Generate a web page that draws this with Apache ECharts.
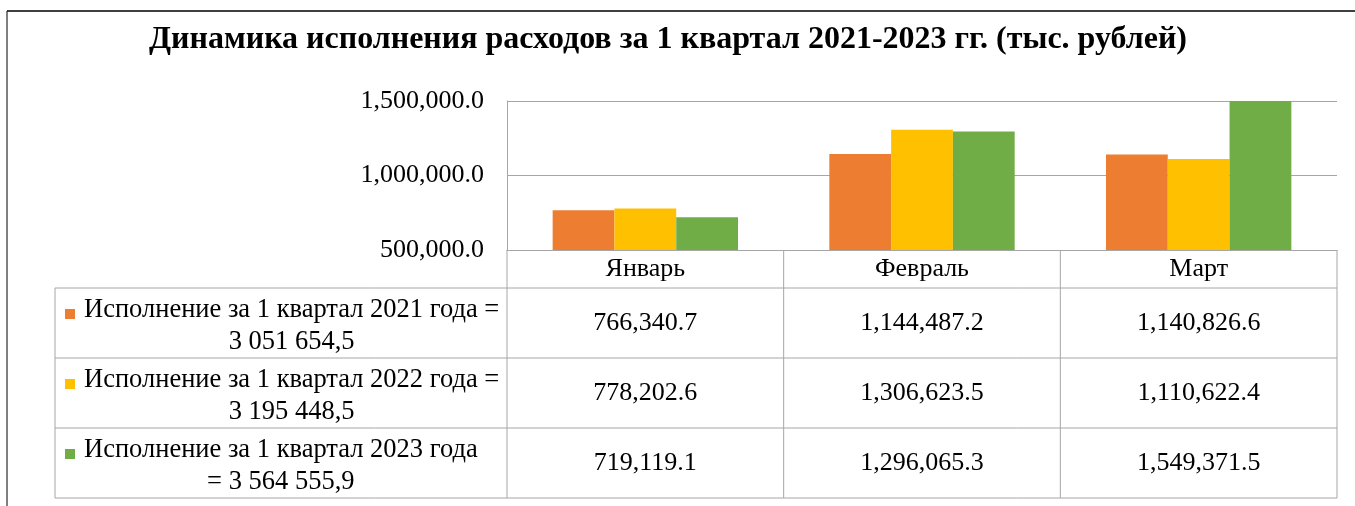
<!DOCTYPE html>
<html>
<head>
<meta charset="utf-8">
<script src="https://cdn.jsdelivr.net/npm/echarts@6/dist/echarts.min.js"></script>
<style>
  html, body { margin: 0; padding: 0; background: #fff; }
  #main { width: 1355px; height: 506px; }
</style>
</head>
<body>
<div id="main"></div>
<script>
// данные
var months = ['Январь', 'Февраль', 'Март'];
var v2021 = [766340.7, 1144487.2, 1140826.6];
var v2022 = [778202.6, 1306623.5, 1110622.4];
var v2023 = [719119.1, 1296065.3, 1549371.5];
var seriesNames = ['Исполнение за 1 квартал 2021 года', 'Исполнение за 1 квартал 2022 года', 'Исполнение за 1 квартал 2023 года'];
var legendLines = [
  ['Исполнение за 1 квартал 2021 года =', '3 051 654,5'],
  ['Исполнение за 1 квартал 2022 года =', '3 195 448,5'],
  ['Исполнение за 1 квартал 2023 года', '= 3 564 555,9']
];
var yMin = 500000, yMax = 1500000, yStep = 500000;

var colors = ['#ED7D31', '#FFC000', '#70AD47'];
var font = '"Liberation Serif", "Times New Roman", serif';
var lineColor = '#A6A6A6';
var fs = 26;

function fmt(v) {
  return v.toLocaleString('en-US', { minimumFractionDigits: 1, maximumFractionDigits: 1 });
}

var myChart = echarts.init(document.getElementById('main'));
var allValues = [v2021, v2022, v2023];

var option = {
  backgroundColor: '#fff',
  animation: false,
  color: colors,
  title: {
    text: 'Динамика исполнения расходов за 1 квартал 2021-2023 гг. (тыс. рублей)',
    left: 144,
    top: 19,
    textStyle: { fontFamily: font, fontSize: 32, fontWeight: 'bold', color: '#000' }
  },
  grid: { left: 507, right: 18, top: 101, bottom: 256 },
  xAxis: {
    type: 'category',
    data: months,
    axisLine: { show: true, lineStyle: { color: lineColor } },
    axisTick: { show: false },
    axisLabel: { fontFamily: font, fontSize: fs, color: '#000', margin: 19, verticalAlign: 'middle' }
  },
  yAxis: {
    type: 'value',
    min: yMin,
    max: yMax,
    interval: yStep,
    axisLine: { show: true, lineStyle: { color: lineColor } },
    axisTick: { show: false },
    splitLine: { lineStyle: { color: lineColor } },
    axisLabel: { fontFamily: font, fontSize: fs, color: '#000', margin: 23, formatter: function (v) { return fmt(v); } }
  },
  series: allValues.map(function (vals, i) {
    return {
      name: seriesNames[i],
      type: 'bar',
      data: vals,
      barGap: '0%',
      barCategoryGap: '33%',
      clip: true
    };
  })
};
myChart.setOption(option);

// таблица данных под графиком
var rowTops = [288, 358, 428, 498];
var tableLeft = 55;
var gridLeft = 507, gridRight = 1337, axisY = 250;
var colEdges = [gridLeft];
for (var k = 0; k < months.length; k++) {
  var cx = myChart.convertToPixel({ gridIndex: 0 }, [k, yMin])[0];
  var half = (gridRight - gridLeft) / months.length / 2;
  colEdges.push(cx + half);
}

var legendFs = 26.5;
var ctx = document.createElement('canvas').getContext('2d');
ctx.font = legendFs + 'px ' + font;

var graphics = [];
function hline(x1, x2, y) {
  graphics.push({ type: 'line', shape: { x1: x1, y1: y, x2: x2, y2: y }, style: { stroke: lineColor, lineWidth: 1 }, silent: true });
}
function vline(x, y1, y2, color) {
  graphics.push({ type: 'line', shape: { x1: x, y1: y1, x2: x, y2: y2 }, style: { stroke: color || lineColor, lineWidth: 1 }, silent: true });
}

// рамка
graphics.push({ type: 'line', shape: { x1: 7, y1: 11, x2: 1355, y2: 11 }, style: { stroke: '#000', lineWidth: 1.5 }, silent: true });
vline(7, 11, 506, '#000');

rowTops.forEach(function (y) { hline(tableLeft, gridRight, y); });
vline(tableLeft, rowTops[0], rowTops[rowTops.length - 1]);
colEdges.forEach(function (x) { vline(x, axisY, rowTops[rowTops.length - 1]); });

allValues.forEach(function (vals, i) {
  var yc = (rowTops[i] + rowTops[i + 1]) / 2;
  vals.forEach(function (v, j) {
    var x = myChart.convertToPixel({ gridIndex: 0 }, [j, yMin])[0];
    graphics.push({
      type: 'text', x: x, y: yc, silent: true,
      style: { text: fmt(v), fontFamily: font, fontSize: fs, fill: '#000', align: 'center', verticalAlign: 'middle' }
    });
  });
  // легенда
  var w = Math.max(ctx.measureText(legendLines[i][0]).width, ctx.measureText(legendLines[i][1]).width);
  var textLeft = 84;
  graphics.push({
    type: 'rect', silent: true,
    shape: { x: 65, y: yc - 14, width: 10, height: 10 },
    style: { fill: colors[i] }
  });
  graphics.push({
    type: 'text', x: textLeft + Math.min(w, 420) / 2, y: yc + 3, silent: true,
    style: {
      text: legendLines[i].join('\n'), fontFamily: font, fontSize: legendFs, lineHeight: 32,
      fill: '#000', align: 'center', verticalAlign: 'middle'
    }
  });
});

myChart.setOption({ graphic: graphics });
</script>
</body>
</html>
